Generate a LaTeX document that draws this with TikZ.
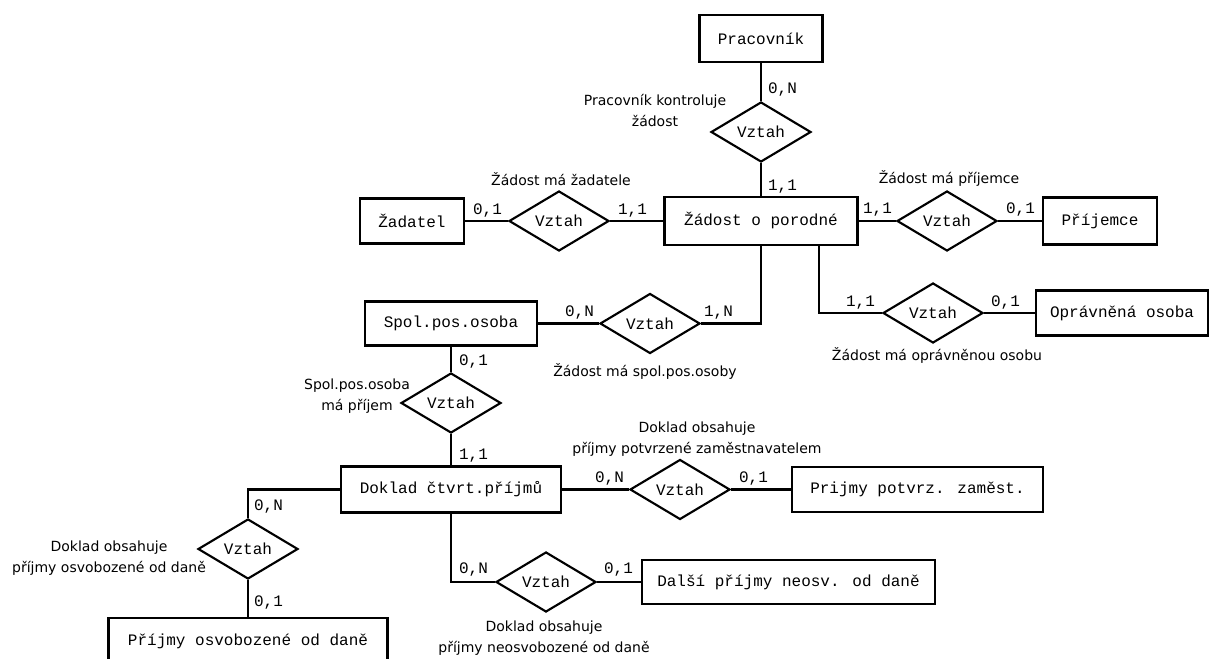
\documentclass[tikz,border=0pt]{standalone}
\usepackage{fontspec}
\setmainfont{DejaVu Sans}
\newfontfamily\erfont{Liberation Mono}
\usetikzlibrary{shapes.geometric}
\begin{document}
\begin{tikzpicture}[x=0.75pt,y=-0.75pt,
  line width=1.6pt,
  ent/.style 2 args={draw, rectangle, minimum width=#1*0.75pt, minimum height=#2*0.75pt,
    inner sep=0pt, font=\erfont\fontsize{12}{14}\selectfont},
  rel/.style={draw, diamond, minimum width=75pt, minimum height=45pt, inner sep=0pt,
    font=\erfont\fontsize{12}{14}\selectfont},
  card/.style={anchor=west, inner sep=0pt, font=\erfont\fontsize{12}{14}\selectfont},
  note/.style={align=center, inner sep=0pt, font=\fontsize{10.5}{15.75}\selectfont}]
\useasboundingbox (0,0) rectangle (1210,659);
\clip (0,0) rectangle (1210,659);

% entities and relationships
\node[ent={123}{47}] (prac) at (761,38.5) {Pracovník};
\node[rel] (r1) at (761,132) {Vztah};
\node[ent={193}{48}] (zop) at (761,221) {Žádost o porodné};
\node[ent={104}{45}] (zad) at (412,221) {Žadatel};
\node[rel] (r2) at (559,221) {Vztah};
\node[rel] (r3) at (947,221) {Vztah};
\node[ent={114}{47}] (prij) at (1100,221) {Příjemce};
\node[ent={172}{44}] (spol) at (451,323.5) {Spol.pos.osoba};
\node[rel] (r4) at (650,323.5) {Vztah};
\node[rel] (r5) at (933,313) {Vztah};
\node[ent={172}{45}] (opr) at (1122,313) {Oprávněná osoba};
\node[rel] (r6) at (451,403) {Vztah};
\node[ent={220}{46}] (dok) at (451,489.5) {Doklad čtvrt.příjmů};
\node[rel] (r8) at (680,489.5) {Vztah};
\node[ent={251}{45}] (ppz) at (917.5,489.5) {Prijmy potvrz. zaměst.};
\node[rel] (r7) at (248,549) {Vztah};
\node[ent={279}{46}] (pos) at (248,641) {Příjmy osvobozené od daně};
\node[rel] (r9) at (546,582) {Vztah};
\node[ent={293}{44}] (dal) at (788.5,582) {Další příjmy neosv. od daně};

% connectors
\draw (prac) -- (r1) -- (zop);
\draw (zad) -- (r2) -- (zop);
\draw (zop) -- (r3) -- (prij);
\draw (spol) -- (r4);
\draw (r4.east) -| (zop.south);
\draw (r5.west) -| ([xshift=43.5pt]zop.south);
\draw (r5) -- (opr);
\draw (spol) -- (r6) -- (dok);
\draw (dok) -- (r8) -- (ppz);
\draw (dok.west) -| (r7.north);
\draw (r7) -- (pos);
\draw (dok.south) |- (r9.west);
\draw (r9) -- (dal);

% cardinalities
\node[card] (k1) at (767,90) {0,N};
\node[card] (k2) at (472,211) {0,1};
\node[card] (k3) at (617,211) {1,1};
\node[card] (k4) at (767,187) {1,1};
\node[card] (k5) at (862,210) {1,1};
\node[card] (k6) at (1005,210) {0,1};
\node[card] (k7) at (564,313) {0,N};
\node[card] (k8) at (703,313) {1,N};
\node[card] (k9) at (845,303) {1,1};
\node[card] (k10) at (990,303) {0,1};
\node[card] (k11) at (458,362) {0,1};
\node[card] (k12) at (458,456) {1,1};
\node[card] (k13) at (594,479) {0,N};
\node[card] (k14) at (738,479) {0,1};
\node[card] (k15) at (253,507) {0,N};
\node[card] (k16) at (253,603) {0,1};
\node[card] (k17) at (458,570) {0,N};
\node[card] (k18) at (603,570) {0,1};

% relationship names
\node[note] (n1) at (655,111) {Pracovník kontroluje\\žádost};
\node[note] (n2) at (561,179) {Žádost má žadatele};
\node[note] (n3) at (949,178) {Žádost má příjemce};
\node[note] (n4) at (645,371) {Žádost má spol.pos.osoby};
\node[note] (n5) at (937,355) {Žádost má oprávněnou osobu};
\node[note] (n6) at (357,396) {Spol.pos.osoba\\má příjem};
\node[note] (n7) at (697,439) {Doklad obsahuje\\příjmy potvrzené zaměstnavatelem};
\node[note] (n8) at (109,558) {Doklad obsahuje\\příjmy osvobozené od daně};
\node[note] (n9) at (544,638) {Doklad obsahuje\\příjmy neosvobozené od daně};
\end{tikzpicture}
\end{document}
